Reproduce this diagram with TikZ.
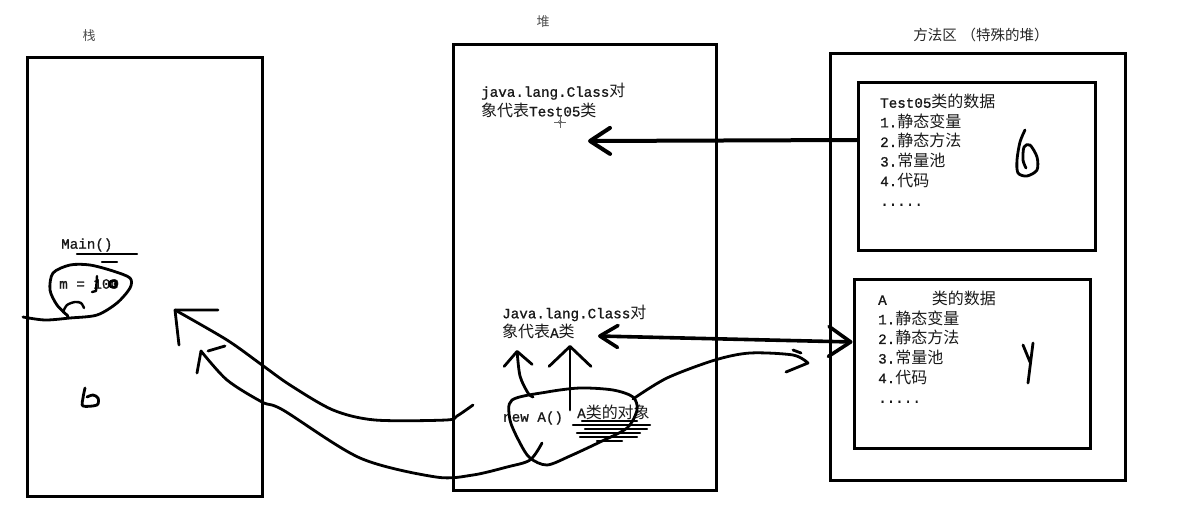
\documentclass[tikz,border=0pt]{standalone}
\usepackage{fontspec}
\setmainfont{Liberation Mono}[Scale=0.89,FakeBold=1]
\newfontfamily\cjk{Noto Sans CJK SC}
\newcommand\zh[1]{{\cjk #1}}
\usetikzlibrary{arrows.meta}

\begin{document}
\begin{tikzpicture}[x=1pt,y=-1pt,font=\fontsize{16}{19.6}\selectfont,
  box/.style={draw,line width=3pt,inner sep=0pt},
  txt/.style={inner sep=0pt,anchor=west,align=left,text=black!90},
  title/.style={inner sep=0pt,text=black!70},
  hand/.style={line width=2.8pt,line cap=round,line join=round},
  barb/.style 2 args={-{Straight Barb[length=#1,width=#2,round]}},
  dbl/.style={{Straight Barb[length=18pt,width=22pt,round]}-{Straight Barb[length=22pt,width=30pt,round]}}]
  \useasboundingbox (0,0) rectangle (1195,523);

  % The three memory areas.
  \node[box,minimum width=235pt,minimum height=439pt] (stack) at (144.5,276.5) {};
  \node[box,minimum width=263pt,minimum height=446pt] (heap) at (584.5,267) {};
  \node[box,minimum width=295pt,minimum height=427pt] (method) at (977.5,266.5) {};
  \node[box,minimum width=237pt,minimum height=168pt] (t05) at (976.5,166) {};
  \node[box,minimum width=236pt,minimum height=169pt] (abox) at (972,363.5) {};

  \node[title,font=\fontsize{13}{13}\selectfont] (stackT) at (89,36) {\zh{栈}};
  \node[title,font=\fontsize{13}{13}\selectfont] (heapT) at (543,22) {\zh{堆}};
  \node[title,text=black!85,font=\fontsize{14.5}{14.5}\selectfont] (methodT) at (981,35)
    {\zh{方法区}\hspace{5pt}\zh{（特殊的堆）}};

  % Class data in the method area.
  \node[txt] (t05txt) at (880,150) {Test05\zh{类的数据}\\1.\zh{静态变量}\\2.\zh{静态方法}\\3.\zh{常量池}\\4.\zh{代码}\\.....};
  \node[txt] (atxt) at (878,347) {A\hspace{45pt}\zh{类的数据}\\1.\zh{静态变量}\\2.\zh{静态方法}\\3.\zh{常量池}\\4.\zh{代码}\\.....};

  % Heap contents.
  \node[txt] (cls05) at (481,100.5) {java.lang.Class\zh{对}\\\zh{象代表}Test05\zh{类}};
  \node[txt] (clsA) at (502,322) {Java.lang.Class\zh{对}\\\zh{象代表}A\zh{类}};
  \node[txt] (newA) at (503,418) {new A()};
  \node[txt] (objA) at (577,412) {A\zh{类的对象}};

  % Stack frame.
  \node[txt] (mainfn) at (61,245) {Main()};
  \node[txt] (mval) at (59,284) {m = 100};

  \coordinate (cls05tip) at (588,141);
  \coordinate (clsAtip) at (598,336);
  \coordinate (refA) at (175,310);
  \coordinate (refB) at (201,351);
  \coordinate (objL) at (473,405);
  \coordinate (objB) at (542,443);
  \coordinate (objR) at (633,399);
  \coordinate (newTop) at (533,397);
  \coordinate (objTop) at (570,410);
  \coordinate (clsAup1) at (517,350);
  \coordinate (clsAup2) at (570,345);
  \coordinate (aHint) at (808,363);

  % Class data to Class objects.
  \draw[hand,line width=4pt,barb={20pt}{26pt}] ([yshift=26pt]t05.west) -- (cls05tip);
  \draw[hand,line width=3.6pt,dbl] (clsAtip) -- ([yshift=21.5pt]abox.west);

  % Object points up to its Class object.
  \draw[hand,barb={14pt}{28pt}] plot[smooth] coordinates {(newTop) (528,393) (520,376) (clsAup1)};
  \draw[hand,barb={20pt}{42pt}] (objTop) -- (clsAup2);

  % Object area scribbled round.
  \draw[hand] plot[smooth cycle] coordinates {(512,400) (547,392) (580,388) (613,390) (633,397)
    (637,410) (627,428) (600,442) (570,456) (547,465) (530,458) (520,443) (510,420)};
  \foreach \y/\a/\b in {421/582/637,425/573/650,429/585/647,433/577/640,437/580/637,441/597/622}
    {\draw[hand,line width=2.4pt] (\a,\y) -- (\b,\y);}
  \draw[hand] plot[smooth] coordinates {(objR) (667,378) (715,360) (750,353) (793,355) (aHint)}
    -- (786,372);
  \draw[hand] (793,350) -- (801,353);

  % References back to the stack.
  \draw[hand] plot[smooth] coordinates {(objL) (457,416) (446,420) (375,420)
    (333,410) (290,385) (262,365) (227,340) (refA)};
  \draw[hand] (refA) -- ++(43,0) (refA) -- ++(4,35);
  \draw[hand] plot[smooth] coordinates {(objB) (530,460) (507,467) (473,475)
    (436,477) (360,458) (283,410) (262,402) (227,380) (refB)};
  \draw[hand] (refB) -- ++(-4,22) (208,351) -- (225,346);

  % Marks in the stack frame.
  \draw[hand,line width=2.4pt] (77,254) -- (137,254) (102,262) -- (117,262);
  \draw[hand] plot[smooth] coordinates {(23,317) (45,320) (70,318) (97,315) (117,303) (130,288)
    (130,278) (113,271) (90,265) (70,265) (53,273) (50,290) (57,305) (68,316)};
  \draw[hand,line width=2.4pt] plot[smooth] coordinates {(63,312) (67,305) (75,302) (81,303) (84,308)};
  \draw[hand,line width=2.4pt] (97,276) -- (96,291) -- (92,292);
  \draw[hand,line width=2.6pt] (113,284) circle (3.5);
  \draw[hand] plot[smooth] coordinates {(85,388) (83,398) (83,406) (97,405) (98,398) (93,395) (87,397)};

  % Marks in the method area.
  \draw[hand] plot[smooth] coordinates {(1025,130) (1020,142) (1017,160) (1018,173) (1027,176)
    (1037,170) (1037,157) (1030,145) (1024,147) (1023,160) (1026,168)};
  \draw[hand] (1023,345) -- (1030,362) (1033,343) -- (1028,383);

  % Cursor.
  \draw[black!60,line width=0.8pt] (554,122) -- (566,122) (560,116) -- (560,128);
  \draw[black!60,line width=0.6pt] (560,122) circle (1.8);
\end{tikzpicture}
\end{document}
